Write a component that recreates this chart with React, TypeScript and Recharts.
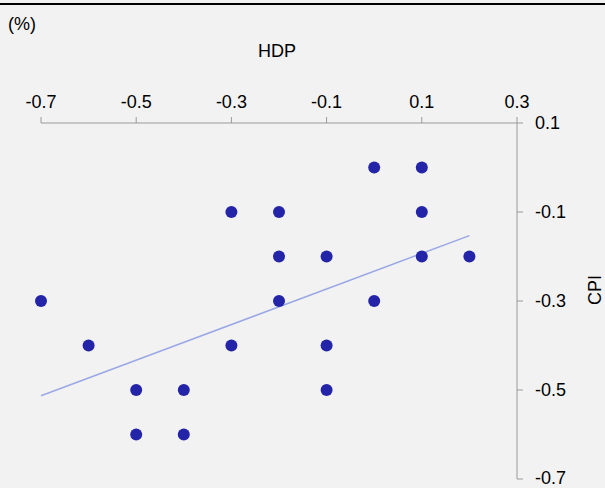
import { ScatterChart, Scatter, XAxis, YAxis } from "recharts";

// HDP (x) vs CPI (y), in %
const hdp = [0, 0.1, -0.3, -0.2, 0.1, -0.2, -0.1, 0.1, 0.2, -0.7, -0.2, 0, -0.6, -0.3, -0.1, -0.5, -0.4, -0.1, -0.5, -0.4];
const cpi = [0, 0, -0.1, -0.1, -0.1, -0.2, -0.2, -0.2, -0.2, -0.3, -0.3, -0.3, -0.4, -0.4, -0.4, -0.5, -0.5, -0.5, -0.6, -0.6];

// trend line endpoints
const trendX = [-0.7, 0.2];
const trendY = [-0.513, -0.153];

const xTicks = [-0.7, -0.5, -0.3, -0.1, 0.1, 0.3];
const yTicks = [0.1, -0.1, -0.3, -0.5, -0.7];

const points = hdp.map((x, i) => ({ x, y: cpi[i] }));
const trend = trendX.map((x, i) => ({ x, y: trendY[i] }));

const FONT = "'Liberation Sans', Arial, sans-serif";
const AXIS = "#9a9a9a";
const FS = 18;

const fmt = (v: number) => v.toFixed(1);

export default function App() {
  return (
    <div
      style={{
        position: "absolute",
        left: 0,
        top: 0,
        width: 605,
        height: 488,
        background: "#f2f2f2",
        fontFamily: FONT,
        color: "#000",
        overflow: "hidden",
      }}
    >
      <div style={{ position: "absolute", left: 0, top: 3, width: 605, height: 2, background: "#000" }} />
      <div style={{ position: "absolute", left: 8, top: 14, fontSize: FS, lineHeight: "20px" }}>(%)</div>
      <div
        style={{
          position: "absolute",
          left: 227,
          top: 41,
          width: 100,
          textAlign: "center",
          fontSize: FS,
          lineHeight: "20px",
        }}
      >
        HDP
      </div>
      <div
        style={{
          position: "absolute",
          left: 595,
          top: 290,
          fontSize: FS,
          lineHeight: "20px",
          transform: "translate(-50%, -50%) rotate(-90deg)",
        }}
      >
        CPI
      </div>
      <ScatterChart width={605} height={488} margin={{ top: 93, right: 58, bottom: 9, left: 41 }}>
        <XAxis
          type="number"
          dataKey="x"
          orientation="top"
          height={30}
          domain={[-0.7, 0.3]}
          ticks={xTicks}
          tickFormatter={fmt}
          stroke={AXIS}
          tickSize={6}
          tickMargin={9}
          tick={{ fill: "#000", fontSize: FS, fontFamily: FONT }}
        />
        <YAxis
          type="number"
          dataKey="y"
          orientation="right"
          width={30}
          domain={[-0.7, 0.1]}
          ticks={yTicks}
          tickFormatter={fmt}
          stroke={AXIS}
          tickSize={6}
          tickMargin={12}
          tick={{ fill: "#000", fontSize: FS, fontFamily: FONT }}
        />
        <Scatter
          data={trend}
          line={{ stroke: "#9aa8e6", strokeWidth: 1.5 }}
          shape={() => <g />}
          isAnimationActive={false}
        />
        <Scatter
          data={points}
          fill="#2424a8"
          shape={(p: any) => <circle cx={p.cx} cy={p.cy} r={6} fill="#2424a8" />}
          isAnimationActive={false}
        />
      </ScatterChart>
    </div>
  );
}
